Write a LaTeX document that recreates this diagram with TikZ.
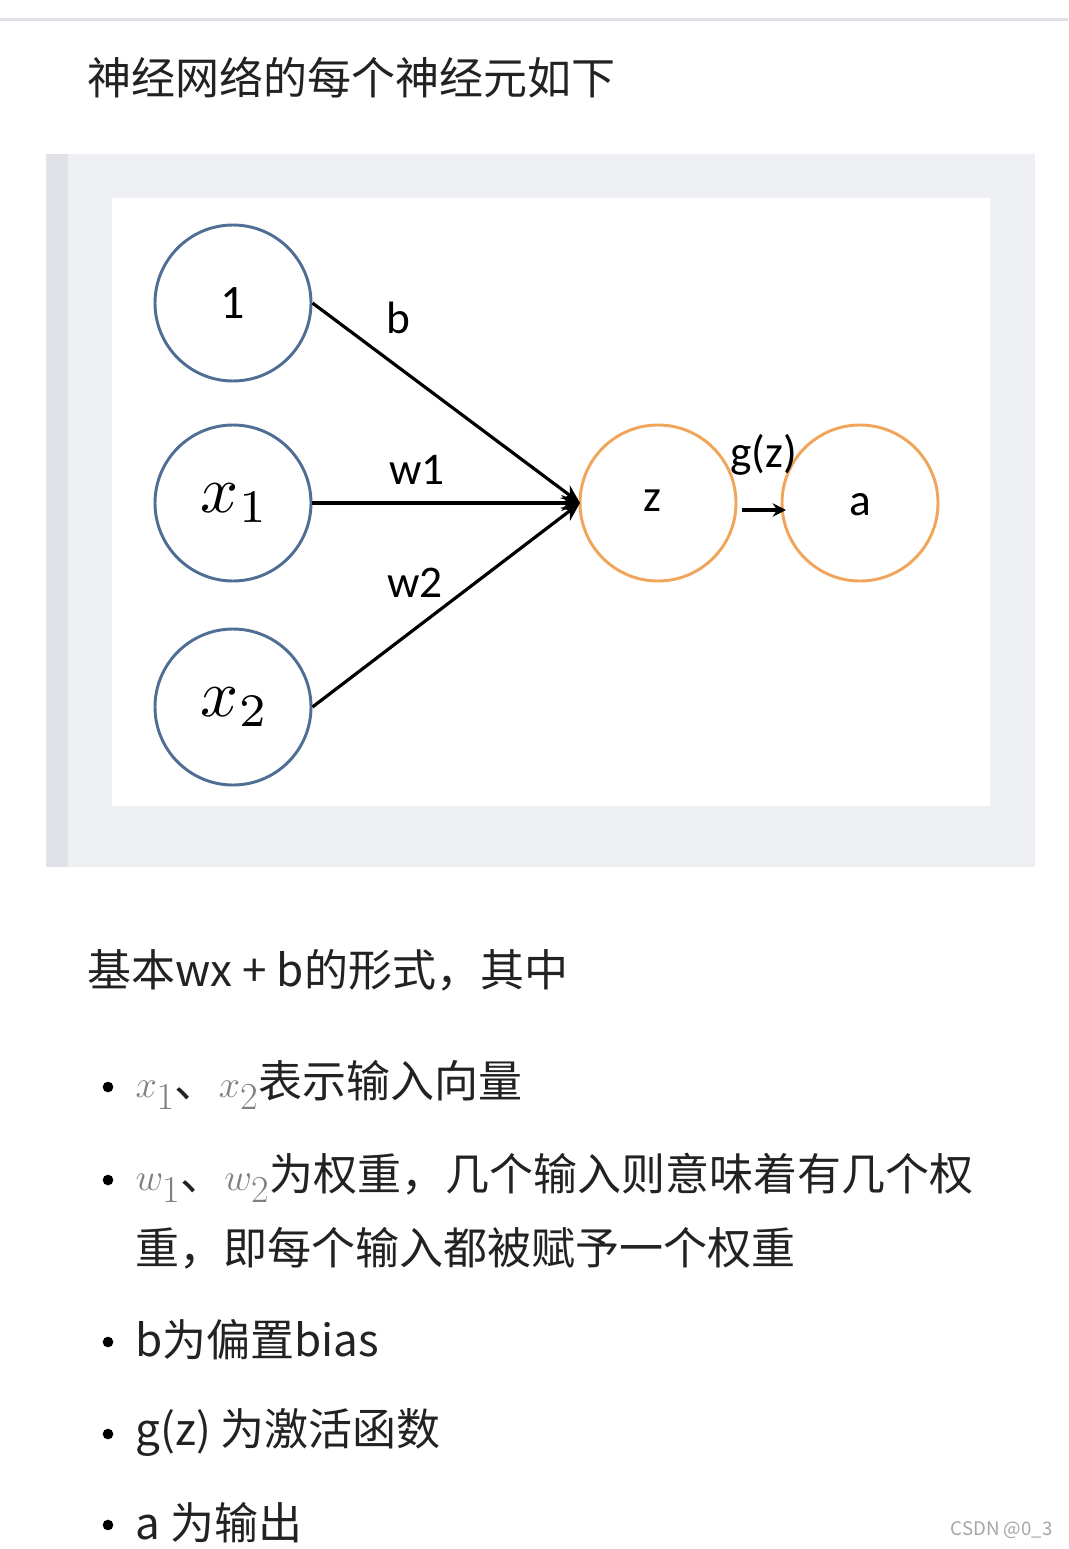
\documentclass[tikz,border=0pt]{standalone}
\usepackage{fontspec}
\setmainfont{Noto Sans CJK SC}
\newfontfamily\figfont{Carlito}
\usetikzlibrary{arrows.meta}
\definecolor{blockgray}{HTML}{EEF0F4}
\definecolor{bargray}{HTML}{E0E2E8}
\definecolor{inblue}{HTML}{4E6E94}
\definecolor{outorange}{HTML}{F0A55A}
\definecolor{txtgray}{HTML}{222222}
\newcommand{\inmath}[1]{\textcolor{gray}{\scalebox{1.15}{$#1$}}}
\tikzset{every picture/.style={line width=0.75pt}}
\tikzset{
  neuron/.style={circle,draw=inblue,line width=2.2pt,minimum size=117pt,inner sep=0pt},
  outneuron/.style={neuron,draw=outorange},
  synapse/.style={line width=2.4pt,-{Stealth[length=14pt,width=12pt]}},
  bodytext/.style={anchor=west,inner sep=0pt,text=txtgray,font=\fontsize{33}{40}\selectfont},
  figlabel/.style={inner sep=0pt,font=\figfont\fontsize{34}{40}\selectfont},
  mathlabel/.style={inner sep=0pt,scale=5},
  bulletdot/.style={circle,fill=black,inner sep=0pt,minimum size=8pt}
}
\begin{document}
\begin{tikzpicture}[x=0.75pt,y=0.75pt,yscale=-1,xscale=1]
	\useasboundingbox (0,0) rectangle (1068,1549);
	\fill[white] (0,0) rectangle (1068,1549);
	%top shadow line
	\fill[bargray] (0,18) rectangle (1068,21);
	
	\node[bodytext] (title) at (87,78) {神经网络的每个神经元如下};
	
	%quote block
	\fill[blockgray] (46,154) rectangle (1035,867);
	\fill[bargray] (46,154) rectangle (68,867);
	\fill[white] (112,198) rectangle (990,806);
	
	%neurons
	\node[neuron] (one) at (233,303) {\figfont\fontsize{36}{40}\selectfont 1};
	\node[neuron] (xone) at (233,503) {};
	\node[neuron] (xtwo) at (233,707) {};
	\node[mathlabel] (xonelab) at (235,503) {$x_1$};
	\node[mathlabel] (xtwolab) at (235,707) {$x_2$};
	\node[outneuron] (z) at (658,503) {};
	\node[outneuron] (a) at (860,503) {};
	\node[figlabel] (zlab) at (652,501) {z};
	\node[figlabel] (alab) at (860,505) {a};
	\coordinate (zin) at (580,503);
	
	\draw[synapse] (one.east) -- (zin);
	\draw[synapse] (xone.east) -- (zin);
	\draw[synapse] (xtwo.east) -- (zin);
	\draw[line width=2.4pt,-{Stealth[length=10pt,width=10pt]}] (742,510) -- (786,510);
	
	\node[figlabel] (blab) at (398,318) {b};
	\node[figlabel] (wone) at (417,470) {w1};
	\node[figlabel] (wtwo) at (415,583) {w2};
	\node[figlabel] (glab) at (764,455) {g(z)};
	
	%body text
	\node[bodytext] (intro) at (87,970) {基本wx + b的形式，其中};
	\foreach \y in {1087,1180,1342,1434,1525}
		\node[bulletdot] at (108,\y) {};
	\node[bodytext] (li1) at (135,1085) {\inmath{x_1}、\inmath{x_2}表示输入向量};
	\node[bodytext] (li2) at (135,1178) {\inmath{w_1}、\inmath{w_2}为权重，几个输入则意味着有几个权};
	\node[bodytext] (li2b) at (135,1248) {重，即每个输入都被赋予一个权重};
	\node[bodytext] (li3) at (135,1340) {b为偏置bias};
	\node[bodytext] (li4) at (135,1432) {g(z) 为激活函数};
	\node[bodytext] (li5) at (135,1523) {a 为输出};
	\node[anchor=east,inner sep=0pt,text=gray!70,font=\fontsize{14}{16}\selectfont] (mark) at (1053,1530) {CSDN @0\_3};
\end{tikzpicture}
\end{document}
